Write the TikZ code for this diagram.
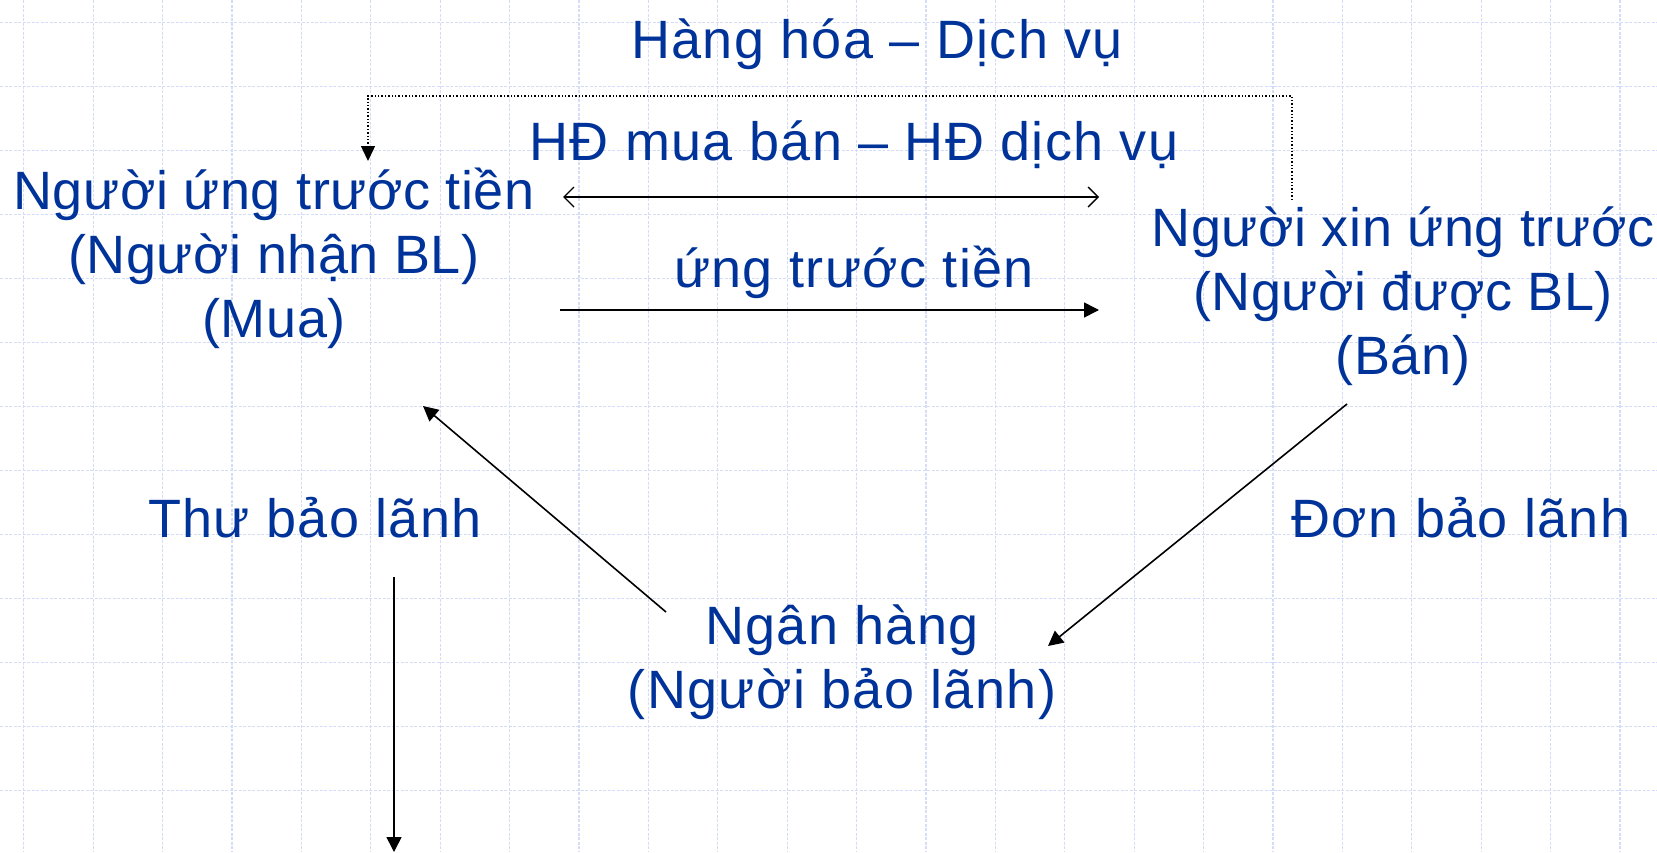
\documentclass[tikz,border=0pt]{standalone}
\usepackage{fontspec}
\setmainfont{Liberation Sans}[LetterSpace=2.5]
\newfontfamily\tightfont{Liberation Sans}[LetterSpace=1.0]
\usetikzlibrary{arrows.meta}
\definecolor{txtblue}{RGB}{0,51,153}
\definecolor{gridblue}{RGB}{212,220,248}
\begin{document}
\begin{tikzpicture}[x=1pt,y=-1pt,
  lbl/.style={text=txtblue,font=\fontsize{54}{64}\selectfont,align=center,inner sep=0pt,anchor=base},
  tight/.style={font=\tightfont\fontsize{54}{64}\selectfont},
  conn/.style={line width=1.6pt,-{Triangle[length=15pt,width=15pt]}},
  dbl/.style={line width=1.4pt,{Straight Barb[length=10pt,width=20pt]}-{Straight Barb[length=10pt,width=20pt]}},
  dots/.style={line width=1.4pt,dotted,-{Triangle[length=15pt,width=14pt]}},
  gridline/.style={gridblue,line width=1.3pt,dash pattern=on 3pt off 1.5pt}]
\useasboundingbox (0,0) rectangle (1657,852);
\fill[white] (0,0) rectangle (1657,852);
% grid
\foreach \k in {0,...,23} \draw[gridline] ({23.8+69.4*\k},0) -- ({23.8+69.4*\k},852);
\foreach \k in {0,...,12} \draw[gridline] (0,{22.7+64*\k}) -- (1657,{22.7+64*\k});
% texts (multi-line nodes: base = baseline of last line)
\node[lbl] (hang) at (877,58) {Hàng hóa – Dịch vụ};
\node[lbl] (hd) at (854,160) {HĐ mua bán – HĐ dịch vụ};
\node[lbl,tight] (buyer) at (274,337) {Người ứng trước tiền\\(Người nhận BL)\\(Mua)};
\node[lbl] (adv) at (854,287) {ứng trước tiền};
\node[lbl,tight] (seller) at (1403,374) {Người xin ứng trước\\(Người được BL)\\(Bán)};
\node[lbl] (thu) at (315,537) {Thư bảo lãnh};
\node[lbl] (don) at (1461,537) {Đơn bảo lãnh};
\node[lbl] (bank) at (842,708) {Ngân hàng\\(Người bảo lãnh)};
% connector ends
\coordinate (dA) at (563,197);
\coordinate (dB) at (1099,197);
\coordinate (aA) at (560,310);
\coordinate (aB) at (1099,310);
\coordinate (bankL) at (666,612);
\coordinate (buyerB) at (423,406);
\coordinate (sellerB) at (1347,404);
\coordinate (bankR) at (1048,646);
\coordinate (thuB) at (394,577);
\coordinate (downEnd) at (394,852);
\coordinate (sellerT) at (1292,200);
\coordinate (buyerT) at (368,161);
% connectors
\draw[dbl] (dA) -- (dB);
\draw[conn] (aA) -- (aB);
\draw[conn] (bankL) -- (buyerB);
\draw[conn] (sellerB) -- (bankR);
\draw[conn] (thuB) -- (downEnd);
\draw[dots] (sellerT) -- (1292,96) -- (368,96) -- (buyerT);
\end{tikzpicture}
\end{document}
